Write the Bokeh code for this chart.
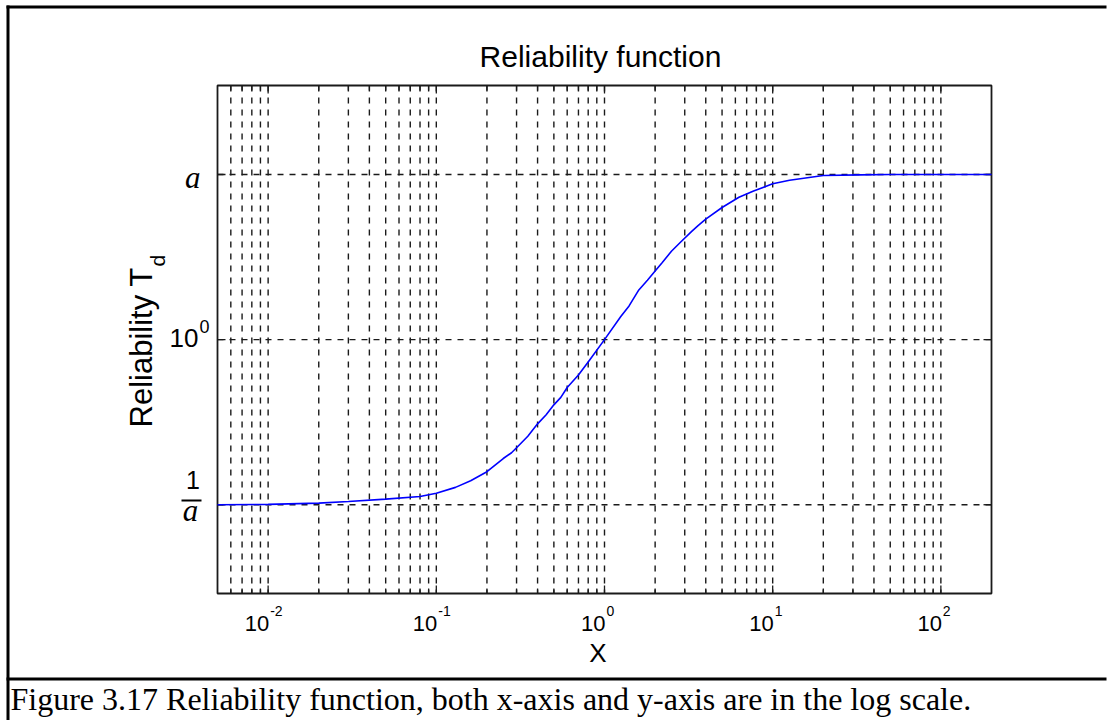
import math
from bokeh.plotting import figure
from bokeh.models import Range1d
from bokeh.core.properties import value
from bokeh.embed import file_html
from bokeh.resources import INLINE

# ---------------- data (a = 10) ----------------
A = 10.0
x_vals = [0.005, 0.01, 0.02, 0.03, 0.05, 0.08, 0.1, 0.13, 0.16, 0.2, 0.25, 0.28,
          0.3, 0.35, 0.4, 0.45, 0.5, 0.55, 0.6, 0.7, 0.8, 1.0, 1.25, 1.4, 1.6,
          1.8, 2.0, 2.2, 2.5, 2.8, 3.3, 3.6, 4.0, 5.0, 6.3, 7.7, 10.0, 12.6,
          20.0, 33.0, 50.0, 100.0, 200.0]
t_vals = [0.1, 0.1005, 0.1023, 0.1047, 0.1081, 0.1122, 0.1175, 0.1274, 0.1396,
          0.1585, 0.1905, 0.2065, 0.2213, 0.26, 0.309, 0.351, 0.4027, 0.447,
          0.5129, 0.61, 0.7311, 1.0, 1.38, 1.60, 2.0, 2.29, 2.6, 2.92, 3.43,
          3.85, 4.52, 4.90, 5.37, 6.31, 7.28, 7.94, 8.79, 9.23, 9.86, 9.95,
          10.0, 10.0, 10.0]

x_lim = [0.005, 200.0]
y_lim = [0.0290, 34.6]
x_major = [0.01, 0.1, 1.0, 10.0, 100.0]
x_major_base = ["10", "10", "10", "10", "10"]
x_major_exp = ["-2", "-1", "0", "1", "2"]
x_minor = [0.006, 0.007, 0.008, 0.009,
           0.02, 0.03, 0.04, 0.05, 0.06, 0.07, 0.08, 0.09,
           0.2, 0.3, 0.4, 0.5, 0.6, 0.7, 0.8, 0.9,
           2, 3, 4, 5, 6, 7, 8, 9,
           20, 30, 40, 50, 60, 70, 80, 90]
y_ticks = [1.0 / A, 1.0, A]

title_text = "Reliability function"
xlabel_text = "X"
ylabel_text = "Reliability T"
ylabel_sub = "d"
caption_text = "Figure 3.17 Reliability function, both x-axis and y-axis are in the log scale."

INK = "#1a1a1a"
SANS = "Liberation Sans"
SERIF = "Liberation Serif"

# ---------------- page geometry (pixels) ----------------
W, H = 1107, 720
BOX_L, BOX_R, BOX_T, BOX_B = 217, 991, 85, 593

LX0, LX1 = math.log10(x_lim[0]), math.log10(x_lim[1])
LY0, LY1 = math.log10(y_lim[0]), math.log10(y_lim[1])
PX_DEC_X = (BOX_R - BOX_L) / (LX1 - LX0)
PX_DEC_Y = (BOX_B - BOX_T) / (LY1 - LY0)


def X(px):
    return 10 ** (LX0 + (px - BOX_L) / PX_DEC_X)


def Y(py):
    return 10 ** (LY0 - (py - BOX_B) / PX_DEC_Y)


p = figure(width=W, height=H, x_axis_type="log", y_axis_type="log",
           x_range=Range1d(X(0), X(W)), y_range=Range1d(Y(H), Y(0)),
           x_axis_location=None, y_axis_location=None,
           output_backend="svg", toolbar_location=None, min_border=0)
p.grid.visible = False
p.outline_line_color = None
p.background_fill_color = "white"
p.border_fill_color = "white"

# grid (dashed) ------------------------------------------------------------
grid_x = sorted(x_major + x_minor)
p.segment(x0=grid_x, y0=[y_lim[1]] * len(grid_x), x1=grid_x, y1=[y_lim[0]] * len(grid_x),
          line_color=INK, line_width=1.4, line_dash="6 6")
p.segment(x0=[x_lim[0]] * 3, y0=y_ticks, x1=[x_lim[1]] * 3, y1=y_ticks,
          line_color=INK, line_width=1.4, line_dash="6 6")

# ticks (inward, all four sides) ------------------------------------------
def xticks(xs, length):
    n = len(xs)
    p.segment(x0=xs, y0=[y_lim[0]] * n, x1=xs, y1=[Y(BOX_B - length)] * n,
              line_color=INK, line_width=1.3)
    p.segment(x0=xs, y0=[y_lim[1]] * n, x1=xs, y1=[Y(BOX_T + length)] * n,
              line_color=INK, line_width=1.3)

xticks(x_major, 8)
xticks(x_minor, 5)
p.segment(x0=[x_lim[0]] * 3, y0=y_ticks, x1=[X(BOX_L + 8)] * 3, y1=y_ticks,
          line_color=INK, line_width=1.3)
p.segment(x0=[x_lim[1]] * 3, y0=y_ticks, x1=[X(BOX_R - 8)] * 3, y1=y_ticks,
          line_color=INK, line_width=1.3)

# axes box
p.quad(left=[x_lim[0]], right=[x_lim[1]], bottom=[y_lim[0]], top=[y_lim[1]],
       fill_color=None, line_color=INK, line_width=1.8)

# curve
p.line(x_vals, t_vals, line_color="#0000ff", line_width=1.6)

# ---------------- texts ----------------
BASE_SHIFT = 0.36  # empirical baseline correction (fraction of font size)


def txt(xs, pys, texts, font=SANS, size=22, align="left", style="normal",
        angle=0.0, x_offset=0, pxs=None):
    """xs: data x values (or None with pxs pixel x); pys: pixel baselines."""
    if angle == 0.0:
        ys = [Y(py - BASE_SHIFT * size) for py in pys]
        xd = xs if xs is not None else [X(px) for px in pxs]
    else:
        ys = [Y(py) for py in pys]
        xd = [X(px - BASE_SHIFT * size) for px in pxs]
    p.text(x=xd, y=ys, text=texts, text_font=value(font),
           text_font_size=value("%dpx" % size),
           text_font_style=value(style), text_align=value(align),
           text_baseline=value("alphabetic"), text_color="black",
           angle=angle, x_offset=x_offset)

# x tick labels: "10" + raised exponent
txt(x_major, [631] * 5, x_major_base, size=22, align="right", x_offset=1)
txt(x_major, [616] * 5, x_major_exp, size=14, align="left", x_offset=2)

# y tick labels
txt(None, [347], ["10"], size=26, align="right", pxs=[198])
txt(None, [332], ["0"], size=18, align="left", pxs=[199])
txt(None, [188], ["a"], font=SERIF, size=31, align="right", style="italic", pxs=[200])
txt(None, [488], ["1"], size=25, align="center", pxs=[192.5])
txt(None, [521], ["a"], font=SERIF, size=31, align="center", style="italic", pxs=[190])
p.segment(x0=[X(181)], y0=[Y(500)], x1=[X(201)], y1=[Y(500)],
          line_color="black", line_width=2)

# title, axis labels
txt(None, [67], [title_text], size=30, align="center", pxs=[600])
txt(None, [662], [xlabel_text], size=26, align="center", pxs=[597.5])
txt(None, [427], [ylabel_text], size=31, align="left", angle=math.pi / 2, pxs=[152])
txt(None, [266], [ylabel_sub], size=21, align="left", angle=math.pi / 2, pxs=[165])

# caption
txt(None, [710], [caption_text], font=SERIF, size=32, align="left", pxs=[10])

# page borders: top, left, separator above caption
p.segment(x0=[X(6), X(7.5), X(6)], y0=[Y(6.5), Y(5), Y(678.5)],
          x1=[X(W - 1), X(7.5), X(W - 1)], y1=[Y(6.5), Y(H), Y(678.5)],
          line_color="black", line_width=3)

open("out.html", "w").write(file_html(p, INLINE))
